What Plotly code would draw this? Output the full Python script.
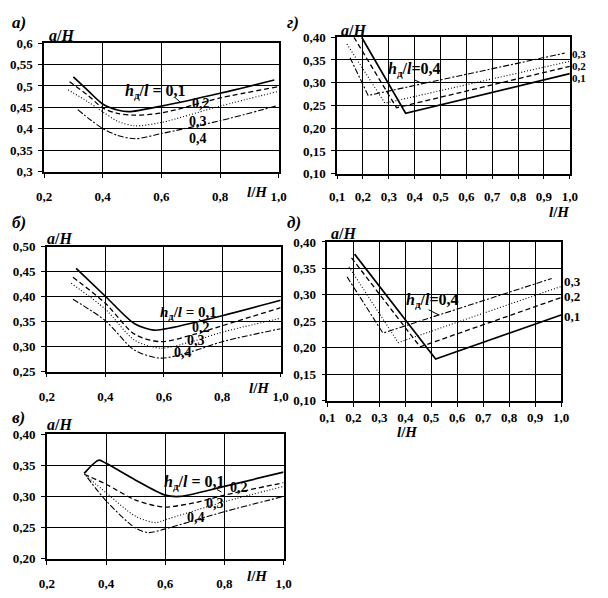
import plotly.graph_objects as go

# ---------------- data ----------------
SERIES = ["0,1", "0,2", "0,3", "0,4"]

# panel а)
A_X1 = [0.30, 0.35, 0.40, 0.45, 0.49, 0.60, 0.80, 0.985]
A_Y1 = [0.521, 0.489, 0.458, 0.444, 0.440, 0.453, 0.483, 0.514]
A_X2 = [0.287, 0.35, 0.40, 0.45, 0.50, 0.60, 0.80, 0.996]
A_Y2 = [0.510, 0.478, 0.449, 0.436, 0.432, 0.437, 0.472, 0.498]
A_X3 = [0.282, 0.35, 0.40, 0.45, 0.51, 0.60, 0.80, 0.996]
A_Y3 = [0.491, 0.463, 0.440, 0.418, 0.407, 0.415, 0.453, 0.487]
A_X4 = [0.315, 0.36, 0.40, 0.45, 0.51, 0.60, 0.80, 0.99]
A_Y4 = [0.445, 0.420, 0.401, 0.385, 0.377, 0.389, 0.419, 0.453]

# panel б)
B_X1 = [0.30, 0.40, 0.50, 0.567, 0.60, 0.80, 1.0]
B_Y1 = [0.457, 0.401, 0.346, 0.333, 0.335, 0.362, 0.393]
B_X2 = [0.289, 0.40, 0.50, 0.589, 0.70, 0.80, 1.0]
B_Y2 = [0.439, 0.387, 0.325, 0.310, 0.324, 0.342, 0.378]
B_X3 = [0.283, 0.40, 0.50, 0.589, 0.70, 0.80, 1.0]
B_Y3 = [0.427, 0.375, 0.313, 0.297, 0.311, 0.329, 0.357]
B_X4 = [0.289, 0.40, 0.50, 0.589, 0.70, 0.80, 1.0]
B_Y4 = [0.395, 0.352, 0.293, 0.277, 0.291, 0.310, 0.336]

# panel в)
V_X1 = [0.326, 0.375, 0.40, 0.50, 0.60, 0.65, 0.80, 1.0]
V_Y1 = [0.337, 0.358, 0.353, 0.326, 0.302, 0.300, 0.316, 0.339]
V_X2 = [0.326, 0.40, 0.50, 0.594, 0.70, 0.80, 1.0]
V_Y2 = [0.3355, 0.3195, 0.294, 0.283, 0.290, 0.302, 0.322]
V_X3 = [0.332, 0.40, 0.50, 0.567, 0.60, 0.80, 1.0]
V_Y3 = [0.333, 0.306, 0.268, 0.258, 0.2625, 0.2915, 0.316]
V_X4 = [0.337, 0.40, 0.50, 0.545, 0.60, 0.80, 1.0]
V_Y4 = [0.330, 0.293, 0.249, 0.242, 0.248, 0.2755, 0.300]

# panel г)
G_X1 = [0.195, 0.365, 1.0]
G_Y1 = [0.400, 0.233, 0.320]
G_X2 = [0.165, 0.330, 1.0]
G_Y2 = [0.400, 0.245, 0.336]
G_X3 = [0.138, 0.285, 1.0]
G_Y3 = [0.385, 0.255, 0.347]
G_X4 = [0.150, 0.220, 0.98]
G_Y4 = [0.355, 0.272, 0.365]

# panel д)
D_X1 = [0.205, 0.517, 1.0]
D_Y1 = [0.377, 0.179, 0.262]
D_X2 = [0.193, 0.457, 1.0]
D_Y2 = [0.370, 0.202, 0.295]
D_X3 = [0.183, 0.373, 1.0]
D_Y3 = [0.353, 0.210, 0.316]
D_X4 = [0.176, 0.314, 0.964]
D_Y4 = [0.334, 0.228, 0.331]

# ticks
XT_ABV = [0.2, 0.4, 0.6, 0.8, 1.0]
XL_ABV = ["0,2", "0,4", "0,6", "0,8", "1,0"]
XT_GD = [0.1, 0.2, 0.3, 0.4, 0.5, 0.6, 0.7, 0.8, 0.9, 1.0]
XL_GD = ["0,1", "0,2", "0,3", "0,4", "0,5", "0,6", "0,7", "0,8", "0,9", "1,0"]
YT_A = [0.30, 0.35, 0.40, 0.45, 0.50, 0.55, 0.60]
YL_A = ["0,3", "0,35", "0,4", "0,45", "0,5", "0,55", "0,6"]
YT_B = [0.25, 0.30, 0.35, 0.40, 0.45, 0.50]
YL_B = ["0,25", "0,30", "0,35", "0,40", "0,45", "0,50"]
YT_V = [0.20, 0.25, 0.30, 0.35, 0.40]
YL_V = ["0,20", "0,25", "0,30", "0,35", "0,40"]
YT_GD = [0.10, 0.15, 0.20, 0.25, 0.30, 0.35, 0.40]
YL_GD = ["0,10", "0,15", "0,20", "0,25", "0,30", "0,35", "0,40"]

# ---------------- layout helpers ----------------
W, H = 608, 598
FONT = "Liberation Serif"


def dx(l, r):
    return [l / W, r / W]


def dy(t, b):
    return [1 - b / H, 1 - t / H]


STYLES = [
    dict(color="black", width=1.7, dash="solid"),
    dict(color="black", width=1.3, dash="5px,3px"),
    dict(color="black", width=1.1, dash="1px,2px"),
    dict(color="black", width=1.1, dash="6px,2px,2px,2px"),
]

panels = [
    # id, data, xticks, yticks, xrange, yrange, domain x px, domain y px, spline, x-label standoff
    ("", [(A_X1, A_Y1), (A_X2, A_Y2), (A_X3, A_Y3), (A_X4, A_Y4)],
     (XT_ABV, XL_ABV), (YT_A, YL_A), [0.2, 1.0], [0.3, 0.6], (37, 278), (37, 169), True, 8),
    ("2", [(G_X1, G_Y1), (G_X2, G_Y2), (G_X3, G_Y3), (G_X4, G_Y4)],
     (XT_GD, XL_GD), (YT_GD, YL_GD), [0.1, 1.0], [0.1, 0.4], (338, 577), (31, 171), False, 6),
    ("3", [(B_X1, B_Y1), (B_X2, B_Y2), (B_X3, B_Y3), (B_X4, B_Y4)],
     (XT_ABV, XL_ABV), (YT_B, YL_B), [0.2, 1.0], [0.25, 0.5], (40, 280), (246, 374), True, 8),
    ("4", [(D_X1, D_Y1), (D_X2, D_Y2), (D_X3, D_Y3), (D_X4, D_Y4)],
     (XT_GD, XL_GD), (YT_GD, YL_GD), [0.1, 1.0], [0.1, 0.4], (328, 568), (241, 404), False, 0),
    ("5", [(V_X1, V_Y1), (V_X2, V_Y2), (V_X3, V_Y3), (V_X4, V_Y4)],
     (XT_ABV, XL_ABV), (YT_V, YL_V), [0.2, 1.0], [0.2, 0.4], (40, 283), (438, 566), True, 8),
]

fig = go.Figure()
layout = dict(
    width=W, height=H, margin=dict(l=0, r=0, t=0, b=0),
    paper_bgcolor="white", plot_bgcolor="white", showlegend=False,
)

tickfont = dict(family=FONT, size=13, color="black", weight="bold")

for pid, series, (xt, xl), (yt, yl), xr, yr, (xl_px, xr_px), (yt_px, yb_px), spline, xso in panels:
    xa = "x" + pid
    ya = "y" + pid
    for (xs, ys), st, name in zip(series, STYLES, SERIES):
        fig.add_trace(go.Scatter(
            x=xs, y=ys, mode="lines", name=name, xaxis=xa, yaxis=ya,
            line=dict(color=st["color"], width=st["width"], dash=st["dash"],
                      shape="spline" if spline else "linear", smoothing=0.8),
            hoverinfo="skip",
        ))
    layout["xaxis" + pid] = dict(
        domain=dx(xl_px, xr_px), range=xr, anchor=ya,
        tickvals=xt, ticktext=xl, tickfont=tickfont,
        showgrid=True, gridcolor="black", gridwidth=1,
        showline=True, linecolor="black", linewidth=1.5, mirror=True,
        ticks="outside", ticklen=4, tickcolor="black", tickwidth=1,
        ticklabelstandoff=xso, zeroline=False, fixedrange=True,
    )
    layout["yaxis" + pid] = dict(
        domain=dy(yt_px, yb_px), range=yr, anchor=xa,
        tickvals=yt, ticktext=yl, tickfont=tickfont,
        showgrid=True, gridcolor="black", gridwidth=1,
        showline=True, linecolor="black", linewidth=1.5, mirror=True,
        ticks="outside", ticklen=4, tickcolor="black", tickwidth=1,
        ticklabelstandoff=3, zeroline=False, fixedrange=True,
    )

fig.update_layout(**layout)


def pann(text, xpx, ypx, size=13, xanchor="center", italic=False, bold=True):
    fig.add_annotation(
        text=text, x=xpx / W, y=1 - ypx / H, xref="paper", yref="paper",
        showarrow=False, xanchor=xanchor, yanchor="middle", borderpad=0,
        font=dict(family=FONT, size=size, color="black",
                  style="italic" if italic else "normal",
                  weight="bold" if bold else "normal"),
    )


def dann(text, x, y, pid, size=14, xanchor="center"):
    fig.add_annotation(
        text=text, x=x, y=y, xref="x" + pid, yref="y" + pid,
        showarrow=False, xanchor=xanchor, yanchor="middle", borderpad=0,
        font=dict(family=FONT, size=size, color="black", weight="bold"),
    )


HL = "<i>h</i><sub>д</sub>/<i>l</i> = "
HL2 = "<i>h</i><sub>д</sub>/<i>l</i>="

# panel letters
pann("а)", 3, 16, size=17, xanchor="left", italic=True)
pann("г)", 285, 16, size=17, xanchor="left", italic=True)
pann("б)", 3, 221, size=17, xanchor="left", italic=True)
pann("д)", 285, 221, size=17, xanchor="left", italic=True)
pann("в)", 3, 421, size=17, xanchor="left", italic=True)

# axis titles
for xpx, ypx in [(41, 29), (341, 24), (39, 237), (331, 232), (39, 428)]:
    pann("<i>a</i>/<i>H</i>", xpx, ypx, size=16, xanchor="left")
for xpx, ypx in [(256, 190), (566, 210), (258, 391), (410, 436), (256, 584)]:
    pann("<i>l</i>/<i>H</i>", xpx, ypx, size=15)

# in-plot labels: panel а
dann(HL + SERIES[0], 0.58, 0.486, "", size=16)
dann(SERIES[1], 0.735, 0.459, "")
dann(SERIES[2], 0.725, 0.418, "")
dann(SERIES[3], 0.725, 0.377, "")
# panel б
dann(HL + SERIES[0], 0.685, 0.368, "3", size=15)
dann(SERIES[1], 0.727, 0.338, "3")
dann(SERIES[2], 0.71, 0.312, "3")
dann(SERIES[3], 0.667, 0.288, "3")
# panel в
dann(HL + SERIES[0], 0.70, 0.322, "5", size=16)
dann(SERIES[1], 0.851, 0.3136, "5")
dann(SERIES[2], 0.769, 0.289, "5")
dann(SERIES[3], 0.703, 0.266, "5")
# panel г
dann(HL2 + SERIES[3], 0.40, 0.328, "2", size=16)
pann(SERIES[2], 578, 48, size=11, xanchor="left")
pann(SERIES[1], 578, 60.5, size=11, xanchor="left")
pann(SERIES[0], 578, 73, size=11, xanchor="left")
# panel д
dann(HL2 + SERIES[3], 0.505, 0.289, "4", size=16)
pann(SERIES[2], 570, 282, size=13, xanchor="left")
pann(SERIES[1], 570, 297, size=13, xanchor="left")
pann(SERIES[0], 570, 317, size=13, xanchor="left")

# leader lines
for pid, x0, y0, x1, y1 in [
    ("", 0.645, 0.474, 0.665, 0.462),
    ("3", 0.72, 0.355, 0.74, 0.347),
    ("5", 0.775, 0.311, 0.79, 0.307),
    ("2", 0.40, 0.306, 0.43, 0.298),
    ("4", 0.49, 0.272, 0.53, 0.262),
]:
    fig.add_shape(type="line", x0=x0, y0=y0, x1=x1, y1=y1,
                  xref="x" + pid, yref="y" + pid,
                  line=dict(color="black", width=1))

fig.write_html("out.html", config={"displayModeBar": False},
               post_script="document.body.style.margin='0';")
